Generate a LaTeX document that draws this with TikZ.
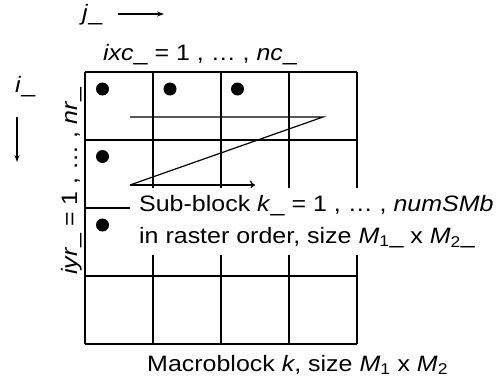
\documentclass[tikz,border=0pt]{standalone}
\usepackage{fontspec}
\setmainfont[FakeStretch=1.12]{Liberation Sans}
\usepackage{tikz}
\usetikzlibrary{
    arrows.meta,
    positioning
}
\tikzset{
  lbl/.style     = {font=\fontsize{22.3}{32}\selectfont, inner sep=0pt},
  gline/.style   = {line width=1.4pt},
  zz/.style      = {line width=1.2pt},
  arr/.style     = {-{Stealth[length=7pt,width=5pt]}, line width=1.2pt},
  zarr/.style    = {-{To[length=5pt,width=9pt]}, line width=1.2pt},
  dot/.style     = {fill=black}
}

\begin{document}
\begin{tikzpicture}[x=1pt,y=-1pt]
  \useasboundingbox (0,0) rectangle (499,383);
  % macroblock grid, 4 x 4 sub-blocks
  \foreach \c in {0,...,4} {
    \draw[gline] (85+68*\c,72) -- (85+68*\c,344);
    \draw[gline] (85,72+68*\c) -- (357,72+68*\c);
  }
  % first pixel of each sub-block
  \foreach \p in {{102.5,89},{170,89},{237.5,89},{102.5,156.5},{102.5,225}}
    \fill[dot] (\p) circle[radius=6.5pt];
  % raster order
  \coordinate (z1) at (130,117);
  \coordinate (z2) at (323,117);
  \coordinate (z3) at (130,185);
  \coordinate (z4) at (255,185);
  \draw[zz] (z1) -- (z2) -- (z3);
  \draw[zarr] (z3) -- (z4);
  % labels
  \node[lbl, anchor=base west] (jlab) at (82,20) {\textit{j}\_};
  \coordinate (ja) at (118,14);
  \draw[arr] (ja) -- ++(46,0);
  \node[lbl, anchor=base west] (ilab) at (15,92) {\textit{i}\_};
  \coordinate (ia) at (17,117);
  \draw[arr] (ia) -- ++(0,45);
  \node[lbl, anchor=base west] (ixc) at (103,60)
       {\textit{ixc}\_ = 1 , … , \textit{nc}\_};
  \node[lbl, anchor=base west, rotate=90] (iyr) at (77,275)
       {\textit{iyr}\_ = 1 , … , \textit{nr}\_};
  \node[lbl, fill=white, align=left, anchor=north west,
        inner xsep=9pt, inner ysep=7pt] (sub) at (130,188)
       {Sub-block \textit{k}\_ = 1 , … , \textit{numSMb}\\
        in raster order, size \textit{M}\textsubscript{1}\_ x \textit{M}\textsubscript{2}\_};
  \node[lbl, anchor=base west] (mb) at (147,371)
       {Macroblock \textit{k}, size \textit{M}\textsubscript{1} x \textit{M}\textsubscript{2}};
\end{tikzpicture}
\end{document}
